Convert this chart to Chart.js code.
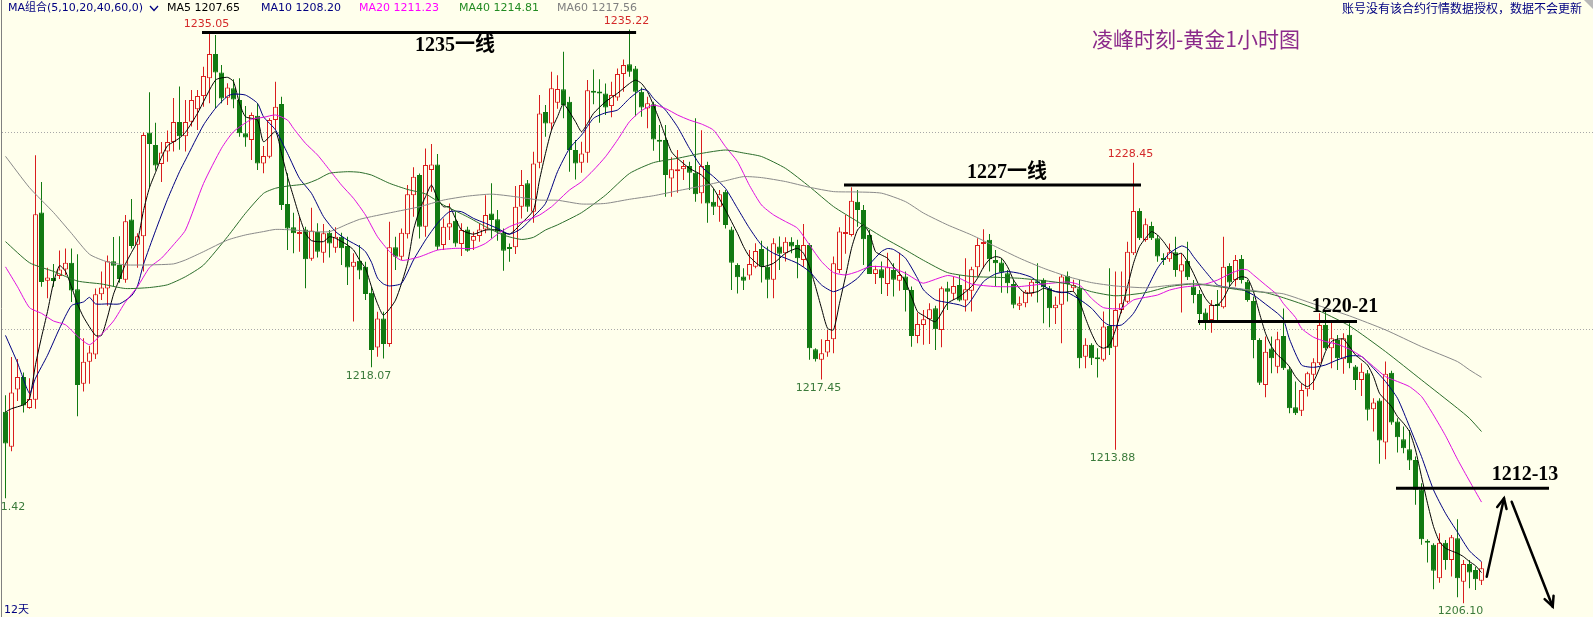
<!DOCTYPE html>
<html><head><meta charset="utf-8">
<script src="https://cdn.jsdelivr.net/npm/chart.js@4.4.1/dist/chart.umd.min.js"></script>
<style>html,body{margin:0;padding:0;background:#FFFFEC;overflow:hidden}#wrap{position:relative;width:1593px;height:617px}</style>
</head><body><div id="wrap"><canvas id="c"></canvas></div>
<script>
const opens=[1215.82,1214.04,1216.94,1217.58,1216.01,1216.42,1225.93,1222.47,1222.61,1222.70,
1223.03,1223.38,1222.03,1217.23,1218.35,1218.72,1221.78,1222.07,1223.46,1223.27,
1222.51,1225.57,1224.29,1224.72,1229.99,1229.36,1228.39,1229.03,1229.51,1230.52,
1229.80,1230.54,1231.17,1231.84,1232.74,1233.97,1233.04,1231.76,1232.23,1231.64,
1229.95,1229.61,1230.84,1228.42,1228.76,1230.62,1231.44,1226.36,1225.18,1224.84,
1225.07,1223.58,1224.94,1223.89,1224.90,1224.14,1224.70,1224.23,1223.18,1223.48,
1223.18,1221.86,1219.08,1220.55,1219.25,1224.16,1223.68,1224.83,1226.81,1227.83,
1225.21,1228.08,1228.37,1224.28,1225.17,1225.51,1224.33,1225.07,1224.50,1224.73,
1225.07,1225.88,1225.58,1224.90,1224.14,1224.16,1226.22,1227.41,1225.97,1228.46,
1231.03,1230.45,1231.50,1232.18,1231.55,1229.10,1228.46,1228.96,1232.09,1232.04,
1231.97,1231.33,1231.77,1232.96,1233.45,1233.24,1232.06,1231.21,1231.43,1229.61,
1229.61,1227.66,1228.02,1228.12,1228.29,1227.95,1226.90,1228.34,1226.48,1226.22,
1226.98,1225.07,1223.26,1222.68,1222.73,1223.18,1224.08,1223.18,1222.51,1224.20,
1223.86,1224.45,1224.28,1223.52,1224.28,1218.99,1218.45,1218.82,1219.49,1223.01,
1224.84,1224.79,1226.48,1226.06,1224.79,1222.81,1223.05,1222.30,1223.01,1222.47,
1222.68,1222.00,1219.66,1220.22,1220.51,1221.07,1219.97,1222.08,1221.80,1222.25,
1221.46,1221.96,1223.15,1224.33,1224.54,1223.52,1223.39,1222.84,1222.30,1221.19,
1221.32,1221.80,1222.42,1222.51,1222.08,1221.07,1221.24,1222.71,1222.08,1222.08,
1218.61,1219.21,1218.55,1218.45,1220.17,1219.12,1220.98,1221.40,1223.86,1226.01,
1224.53,1225.24,1224.62,1223.59,1223.55,1223.91,1222.93,1223.47,1222.17,1221.79,
1220.85,1220.47,1221.27,1221.12,1223.21,1222.50,1223.57,1222.42,1221.44,1219.46,
1217.17,1219.03,1218.10,1219.66,1217.97,1216.04,1215.87,1216.96,1217.69,1218.28,
1220.22,1219.04,1219.46,1218.48,1219.72,1218.11,1217.43,1217.77,1215.94,1216.38,
1214.25,1217.80,1215.32,1214.42,1213.91,1213.37,1211.88,1209.26,1209.06,1207.36,
1209.17,1208.29,1209.39,1207.19,1208.09,1207.78,1207.24];
const highs=[1216.65,1218.59,1218.49,1217.81,1217.52,1228.83,1227.48,1223.13,1223.32,1224.00,
1224.10,1224.10,1223.81,1219.55,1219.17,1222.07,1222.94,1223.75,1224.68,1224.72,
1225.80,1226.61,1224.87,1229.99,1232.03,1230.48,1229.51,1230.09,1231.74,1232.32,
1231.64,1232.15,1232.15,1233.33,1235.05,1234.94,1233.42,1232.49,1232.69,1232.74,
1231.33,1231.00,1231.47,1229.30,1230.71,1232.57,1231.81,1227.92,1225.92,1225.72,
1225.21,1226.17,1225.38,1225.34,1225.04,1225.18,1224.90,1224.70,1223.86,1224.28,
1223.43,1222.16,1220.89,1220.89,1225.46,1224.70,1225.12,1227.32,1228.22,1227.91,
1229.18,1229.40,1228.90,1225.63,1226.39,1225.97,1225.38,1225.21,1224.95,1225.38,
1226.81,1227.41,1226.05,1225.12,1224.36,1227.27,1228.08,1227.58,1229.01,1231.89,
1231.38,1233.07,1232.90,1234.09,1231.81,1229.61,1229.52,1232.65,1233.19,1232.69,
1232.48,1232.57,1233.24,1233.70,1235.22,1233.36,1232.28,1231.81,1231.55,1230.37,
1230.37,1228.73,1229.10,1228.59,1228.51,1230.71,1230.11,1228.51,1227.15,1227.07,
1227.07,1225.21,1223.35,1223.10,1224.03,1224.37,1224.50,1224.20,1224.62,1224.71,
1224.67,1224.67,1224.54,1225.35,1224.37,1219.04,1219.49,1219.97,1223.69,1225.18,
1225.81,1227.21,1227.07,1226.31,1225.04,1223.22,1223.44,1223.89,1223.35,1223.89,
1222.93,1222.17,1220.85,1220.98,1221.32,1221.19,1222.17,1222.42,1222.68,1222.76,
1223.61,1223.18,1224.62,1225.08,1224.84,1224.03,1223.61,1223.01,1222.51,1221.66,
1222.00,1222.51,1223.35,1222.59,1222.20,1221.66,1222.76,1222.93,1222.51,1222.51,
1219.54,1219.29,1219.04,1220.90,1223.10,1222.93,1222.93,1224.45,1228.45,1226.14,
1225.63,1225.46,1224.79,1223.86,1224.36,1224.70,1223.86,1224.45,1222.50,1221.99,
1221.06,1221.49,1222.00,1224.70,1223.35,1223.77,1223.77,1222.50,1221.66,1219.54,
1219.63,1219.63,1219.88,1221.06,1218.11,1217.35,1217.26,1217.85,1218.53,1220.82,
1220.90,1220.34,1219.71,1219.80,1220.31,1218.19,1218.28,1217.94,1216.50,1216.50,
1218.36,1217.90,1215.48,1215.06,1214.89,1213.54,1212.19,1209.34,1209.14,1209.65,
1209.31,1209.56,1210.36,1208.29,1208.29,1207.95,1208.20];
const lows=[1211.42,1213.81,1216.36,1215.78,1215.97,1215.97,1222.16,1221.58,1222.16,1222.55,
1222.74,1221.39,1215.59,1216.84,1217.23,1218.49,1221.49,1221.20,1222.16,1222.36,
1222.36,1224.10,1223.13,1222.94,1227.19,1228.06,1227.48,1228.51,1229.03,1229.12,
1229.03,1230.29,1230.12,1231.30,1231.47,1231.22,1231.47,1231.39,1231.22,1229.78,
1229.27,1228.59,1228.09,1227.92,1228.68,1230.12,1226.06,1224.02,1223.86,1223.94,
1222.08,1223.48,1223.65,1223.38,1223.65,1223.89,1223.26,1222.25,1220.39,1222.54,
1221.49,1218.07,1218.61,1218.52,1219.12,1223.01,1223.52,1224.61,1225.71,1224.61,
1224.70,1226.98,1224.02,1224.02,1224.53,1224.19,1223.72,1223.94,1224.02,1224.45,
1224.87,1224.61,1224.50,1222.97,1223.43,1223.82,1225.63,1225.97,1225.41,1228.17,
1229.78,1230.11,1231.20,1230.71,1228.00,1227.61,1227.95,1228.46,1231.43,1230.49,
1230.88,1230.76,1231.60,1232.06,1232.82,1230.82,1230.79,1230.20,1229.06,1228.51,
1226.73,1226.73,1226.93,1227.58,1227.07,1226.48,1226.39,1225.41,1225.80,1225.46,
1225.12,1221.99,1221.82,1222.00,1222.51,1223.10,1222.37,1221.57,1221.57,1223.01,
1223.44,1223.86,1222.59,1223.18,1218.45,1218.36,1217.45,1218.61,1218.78,1222.84,
1223.83,1224.71,1225.21,1223.27,1222.81,1222.30,1221.79,1221.69,1221.66,1221.96,
1220.90,1219.12,1219.29,1219.21,1219.26,1218.95,1219.09,1220.98,1221.49,1221.41,
1220.90,1220.90,1222.68,1223.10,1222.93,1222.17,1221.86,1221.83,1221.07,1220.98,
1221.12,1221.66,1221.36,1220.31,1220.10,1220.27,1219.29,1221.41,1221.91,1218.02,
1218.02,1218.19,1217.55,1218.36,1218.70,1213.88,1220.81,1221.32,1223.77,1224.53,
1224.45,1224.53,1223.43,1223.26,1223.43,1222.67,1220.85,1222.50,1221.32,1220.22,
1219.97,1219.83,1220.47,1221.06,1222.08,1222.17,1222.33,1221.40,1218.53,1217.17,
1216.55,1217.77,1217.77,1217.93,1215.74,1215.65,1215.60,1216.59,1216.92,1218.19,
1218.95,1218.02,1217.94,1217.74,1218.02,1216.92,1216.62,1215.37,1214.81,1213.17,
1213.40,1215.15,1213.74,1213.71,1212.86,1211.09,1209.06,1208.16,1206.81,1207.14,
1207.79,1207.45,1206.40,1206.10,1206.85,1206.77,1207.02];
const closes=[1214.20,1216.79,1217.58,1216.13,1216.46,1225.84,1222.40,1222.63,1222.45,1223.03,
1223.38,1221.97,1217.17,1218.35,1218.82,1221.78,1222.12,1223.46,1223.23,1222.55,
1225.49,1224.23,1224.72,1229.86,1229.40,1228.31,1228.97,1229.51,1230.52,1229.80,
1230.52,1231.64,1231.84,1232.86,1233.97,1233.04,1231.72,1232.27,1231.67,1229.95,
1229.74,1230.88,1228.42,1228.80,1230.62,1231.30,1226.31,1225.12,1224.87,1224.90,
1223.55,1225.01,1223.94,1224.87,1224.36,1224.70,1224.11,1223.14,1223.43,1222.98,
1221.79,1218.95,1220.55,1219.25,1224.16,1223.68,1224.90,1226.86,1227.74,1225.21,
1228.34,1228.37,1224.19,1225.21,1225.38,1224.36,1225.04,1223.99,1224.73,1225.07,
1225.80,1225.55,1224.95,1223.99,1224.07,1226.22,1227.32,1226.22,1228.42,1230.96,
1230.45,1232.23,1232.20,1231.38,1229.10,1228.42,1228.93,1232.14,1232.01,1231.97,
1231.26,1231.89,1232.96,1233.41,1233.07,1232.06,1231.26,1231.47,1229.64,1229.52,
1227.83,1228.12,1228.08,1228.29,1227.95,1226.86,1228.29,1226.39,1226.22,1226.86,
1225.29,1223.38,1222.64,1222.47,1223.32,1223.98,1223.18,1222.51,1224.37,1223.83,
1224.45,1224.20,1223.61,1224.28,1219.04,1218.48,1218.78,1219.46,1223.35,1224.96,
1224.91,1226.53,1226.06,1224.57,1222.81,1223.05,1222.59,1223.15,1222.51,1222.76,
1222.00,1219.66,1220.27,1220.51,1221.02,1220.00,1222.08,1221.91,1222.20,1221.46,
1222.03,1223.05,1224.28,1224.40,1223.55,1223.35,1222.88,1222.34,1221.24,1221.32,
1221.91,1222.42,1222.34,1222.13,1221.07,1221.24,1222.68,1222.30,1222.25,1218.53,
1219.21,1218.53,1218.48,1220.14,1219.04,1220.98,1221.32,1223.94,1226.01,1224.62,
1225.33,1224.62,1223.69,1223.52,1223.91,1223.01,1223.30,1222.64,1221.74,1220.78,
1220.47,1221.23,1221.18,1223.18,1222.37,1223.52,1222.50,1221.49,1219.46,1217.29,
1218.86,1218.53,1219.49,1218.02,1215.99,1215.74,1216.92,1217.77,1218.33,1220.22,
1219.04,1219.55,1218.53,1219.55,1218.28,1217.43,1217.85,1215.91,1216.28,1214.35,
1217.74,1215.27,1214.52,1213.96,1213.34,1211.85,1209.34,1209.17,1207.75,1209.17,
1208.29,1209.44,1207.36,1208.09,1207.65,1207.31,1207.87];

// moving-average lines: [bar index, value]
const ma5=[[0,1215.8],[1,1215.97],[3,1216.17],[4,1216.46],[5,1218.2],[6,1219.6],[7,1220.9],[8,1222.36],[9,1223.23],[10,1222.94],[11,1222.16],[12,1221.29],[13,1220.62],[15,1219.69],[16,1219.69],[17,1220.62],[18,1221.78],[19,1222.55],[20,1223.32],[21,1223.9],[22,1224.48],[23,1226.03],[24,1227.19],[25,1227.96],[26,1228.74],[27,1229.32],[28,1229.51],[29,1229.71],[30,1230.0],[32,1230.96],[35,1232.65],[37,1232.79],[38,1232.57],[39,1231.47],[40,1230.79],[42,1230.62],[43,1229.52],[45,1230.03],[46,1228.93],[47,1227.75],[48,1226.73],[49,1225.72],[50,1224.87],[51,1224.5],[53,1224.45],[54,1224.7],[55,1224.62],[57,1224.28],[58,1224.03],[59,1223.52],[60,1223.09],[61,1222.16],[62,1221.3],[63,1220.72],[65,1221.48],[67,1223.35],[68,1225.04],[69,1226.05],[70,1226.73],[71,1227.32],[72,1226.64],[73,1226.22],[74,1226.22],[75,1225.63],[76,1225.04],[78,1224.83],[80,1225.04],[82,1225.04],[84,1224.83],[86,1225.38],[88,1226.05],[89,1227.58],[90,1228.93],[91,1230.11],[92,1230.79],[93,1231.43],[95,1230.54],[96,1230.03],[97,1230.45],[98,1230.96],[100,1231.55],[102,1231.98],[104,1232.48],[105,1232.65],[106,1232.48],[107,1232.06],[108,1231.38],[109,1230.62],[110,1229.78],[111,1229.01],[112,1228.68],[114,1228.17],[116,1227.83],[118,1227.15],[120,1226.05],[122,1224.87],[123,1224.2],[124,1223.69],[126,1223.18],[128,1223.35],[130,1223.86],[132,1224.11],[133,1223.86],[134,1223.18],[135,1222.17],[136,1221.07],[137,1220.05],[138,1219.97],[139,1221.32],[140,1222.68],[141,1224.11],[142,1225.04],[143,1225.3],[144,1224.87],[145,1223.94],[146,1223.77],[147,1223.61],[148,1223.18],[149,1222.84],[150,1222.42],[151,1221.66],[152,1220.9],[153,1220.7],[155,1220.39],[157,1221.32],[159,1221.66],[161,1222.17],[162,1222.59],[163,1223.15],[164,1223.55],[165,1223.69],[166,1223.61],[167,1223.18],[168,1222.51],[169,1222.08],[170,1221.83],[172,1221.91],[173,1222.08],[174,1222.0],[176,1221.86],[178,1221.91],[179,1221.41],[180,1220.56],[181,1219.8],[182,1219.21],[183,1219.04],[184,1219.2],[185,1219.97],[186,1220.98],[187,1222.17],[188,1223.35],[189,1224.2],[190,1224.62],[191,1224.96],[192,1224.79],[193,1224.45],[194,1224.03],[195,1223.77],[196,1223.86],[197,1223.43],[198,1222.84],[199,1222.17],[200,1221.57],[201,1221.23],[202,1221.23],[203,1221.57],[204,1222.17],[205,1222.54],[206,1222.67],[207,1222.59],[208,1221.91],[209,1220.81],[210,1219.8],[211,1219.12],[212,1218.7],[213,1218.44],[214,1218.1],[215,1217.6],[216,1217.26],[217,1217.09],[218,1217.35],[219,1218.02],[220,1218.87],[221,1219.38],[222,1219.5],[223,1219.5],[224,1219.12],[225,1218.7],[226,1218.45],[227,1218.19],[228,1217.6],[229,1216.75],[230,1216.41],[231,1216.08],[232,1215.57],[233,1215.23],[234,1214.81],[235,1213.88],[236,1212.52],[237,1211.17],[238,1209.99],[239,1209.22],[240,1208.89],[241,1208.75],[242,1208.63],[243,1208.46],[244,1208.21],[245,1208.0],[246,1207.65]];
const ma10=[[0,1219.69],[2,1218.3],[4,1216.75],[5,1217.52],[7,1218.68],[9,1220.04],[11,1221.2],[13,1221.39],[14,1221.62],[15,1221.29],[17,1221.29],[19,1221.29],[21,1221.7],[22,1222.2],[23,1223.3],[25,1225.0],[27,1226.6],[29,1228.0],[30,1228.6],[33,1230.37],[35,1231.22],[37,1231.84],[38,1231.94],[40,1231.89],[42,1231.47],[43,1230.79],[45,1230.12],[47,1228.93],[49,1227.66],[51,1226.9],[53,1225.72],[55,1224.96],[57,1224.53],[59,1224.19],[60,1223.94],[61,1223.4],[62,1222.6],[63,1222.3],[64,1222.2],[66,1222.33],[68,1223.52],[70,1224.53],[72,1225.38],[74,1225.97],[76,1225.97],[78,1225.63],[80,1225.38],[82,1225.12],[84,1224.83],[86,1225.12],[88,1225.72],[90,1226.39],[92,1228.0],[94,1229.18],[96,1229.86],[98,1230.71],[100,1230.99],[102,1231.13],[104,1231.72],[106,1232.18],[107,1232.11],[108,1231.72],[110,1231.13],[112,1230.28],[114,1229.18],[116,1228.25],[118,1227.75],[120,1227.15],[122,1226.14],[124,1225.13],[126,1224.28],[128,1223.86],[130,1223.61],[132,1223.35],[134,1222.93],[136,1222.25],[138,1221.91],[140,1222.17],[142,1222.59],[144,1223.3],[146,1223.95],[147,1224.1],[148,1224.05],[150,1223.61],[152,1222.59],[153,1222.0],[155,1221.49],[157,1221.36],[159,1221.24],[160,1221.15],[161,1221.5],[163,1222.42],[165,1222.81],[167,1222.93],[169,1222.84],[171,1222.64],[173,1222.2],[175,1221.91],[177,1221.86],[179,1221.52],[181,1221.07],[183,1220.39],[184,1220.2],[186,1220.22],[188,1220.81],[190,1221.91],[192,1223.1],[194,1223.86],[196,1224.23],[197,1224.11],[198,1223.69],[200,1222.93],[202,1222.25],[204,1222.11],[206,1222.03],[208,1221.74],[210,1221.28],[212,1220.81],[213,1220.5],[214,1219.5],[216,1218.19],[218,1218.07],[220,1218.19],[222,1218.45],[224,1218.65],[226,1218.62],[228,1218.02],[230,1217.35],[232,1216.5],[234,1215.06],[236,1213.54],[238,1211.85],[240,1210.66],[242,1209.7],[244,1208.75],[246,1208.2]];
const ma20=[[0,1223.17],[2,1222.16],[4,1221.1],[6,1220.81],[8,1220.42],[10,1220.23],[12,1219.65],[14,1219.22],[16,1219.75],[18,1220.42],[20,1221.39],[22,1222.16],[24,1223.13],[26,1223.61],[28,1224.29],[30,1225.04],[33,1227.4],[36,1229.19],[38,1230.03],[41,1230.66],[43,1230.76],[45,1230.88],[47,1230.62],[48,1230.2],[50,1229.44],[52,1228.85],[54,1228.09],[56,1227.32],[58,1226.65],[60,1225.8],[62,1224.7],[64,1223.95],[66,1223.5],[69,1223.68],[72,1224.02],[75,1224.11],[78,1224.11],[80,1224.36],[82,1224.83],[84,1225.21],[87,1225.55],[89,1225.8],[91,1226.22],[92,1226.5],[94,1227.07],[96,1227.49],[98,1228.08],[100,1228.76],[102,1229.61],[104,1230.54],[106,1231.1],[108,1231.38],[110,1231.21],[112,1230.88],[114,1230.62],[116,1230.42],[118,1230.11],[120,1229.27],[122,1228.51],[124,1227.3],[126,1226.31],[128,1225.81],[130,1225.47],[132,1225.13],[134,1224.28],[136,1223.44],[138,1222.88],[140,1222.76],[142,1222.93],[144,1223.18],[146,1223.18],[148,1223.1],[150,1222.84],[152,1222.47],[153,1222.34],[157,1222.73],[159,1222.59],[161,1222.3],[165,1222.17],[169,1222.17],[173,1222.3],[177,1222.4],[179,1222.25],[181,1221.57],[183,1221.1],[186,1221.06],[188,1221.49],[190,1221.62],[192,1221.74],[194,1221.99],[196,1222.13],[198,1222.2],[200,1222.3],[202,1222.5],[204,1222.81],[206,1223.04],[207,1223.01],[208,1222.76],[210,1222.25],[212,1221.74],[213,1221.3],[215,1220.6],[216,1220.05],[218,1219.6],[220,1219.38],[222,1219.24],[224,1218.99],[226,1218.62],[228,1218.11],[230,1217.6],[232,1217.35],[234,1217.09],[236,1216.59],[238,1215.65],[240,1214.6],[242,1213.4],[244,1212.3],[246,1211.23]];
const ma40=[[0,1224.45],[4,1223.38],[8,1222.94],[12,1222.45],[16,1222.3],[20,1222.07],[24,1222.12],[27,1222.26],[30,1222.67],[33,1223.26],[37,1224.7],[40,1225.89],[43,1226.9],[45,1227.16],[47,1227.27],[50,1227.38],[52,1227.61],[54,1227.92],[57,1228.0],[59,1227.97],[61,1227.83],[64,1227.41],[67,1227.1],[70,1226.87],[73,1226.31],[77,1225.71],[80,1225.21],[83,1224.78],[86,1224.56],[88,1224.67],[90,1225.04],[92,1225.3],[96,1225.92],[100,1226.81],[104,1227.91],[108,1228.46],[112,1228.68],[116,1228.93],[120,1229.1],[123,1228.95],[126,1228.77],[130,1228.17],[134,1227.24],[138,1226.23],[142,1225.47],[146,1224.71],[150,1224.03],[153,1223.5],[157,1222.88],[161,1222.68],[165,1222.64],[169,1222.59],[173,1222.47],[177,1222.3],[181,1221.91],[185,1221.7],[190,1221.86],[194,1222.17],[198,1222.3],[202,1222.17],[206,1221.99],[210,1221.86],[213,1221.6],[218,1221.07],[224,1220.17],[230,1218.87],[236,1217.43],[242,1215.99],[244,1215.48],[246,1214.81]];
const ma60=[[0,1228.78],[4,1227.19],[8,1225.93],[11,1224.87],[14,1223.81],[17,1223.42],[20,1223.27],[24,1223.27],[28,1223.32],[30,1223.52],[33,1223.94],[37,1224.53],[40,1224.79],[43,1224.96],[45,1225.07],[48,1225.04],[51,1224.96],[54,1224.96],[57,1225.34],[59,1225.58],[61,1225.72],[65,1225.97],[69,1226.22],[73,1226.56],[77,1226.76],[81,1226.86],[85,1226.73],[89,1226.56],[92,1226.55],[96,1226.36],[100,1226.39],[104,1226.6],[108,1226.78],[112,1227.03],[116,1227.27],[120,1227.54],[123,1227.75],[126,1227.7],[130,1227.5],[134,1227.21],[138,1226.99],[142,1226.97],[146,1226.91],[150,1226.48],[153,1225.9],[157,1225.3],[161,1224.79],[165,1224.2],[169,1223.61],[173,1223.1],[177,1222.68],[181,1222.37],[185,1222.2],[190,1222.11],[194,1222.23],[198,1222.33],[202,1222.2],[206,1222.05],[210,1221.88],[213,1221.8],[218,1221.29],[224,1220.68],[230,1219.97],[236,1219.12],[242,1218.36],[244,1217.94],[246,1217.56]];

// marked extremes (bar indices)
const peakIdx=[34,104,188];
const troughIdx=[0,61,136,185,243];
// hand-drawn support/resistance levels
const levelPrice=[1235.07,1227.33,1220.40,1211.93];
const levelFrom=[32.75,139.75,198.75,231.75];
const levelTo=[105.1,189.25,225.25,257.25];
const levelText=['1235一线','1227一线','1220-21','1212-13'];
const levelTextIdx=[74.9,166.9,223.25,253.25];
const levelTextVal=[1234.38,1227.93,1221.13,1212.60];
// forecast arrows [bar index, price]
const arrowFrom=[[246.87,1207.44],[251.03,1211.25]];
const arrowTo=[[249.75,1211.42],[257.87,1205.92]];
const gridValues=[1220,1230];

const BG='#FFFFEC', RED='#D91E1E', GREEN='#127A12';
const W=1593, H=617;
const PXX=6, X0=5.5, PXY=19.7, Y_REF=1220, Y_REF_PX=329.3;
const X_MIN=-X0/PXX, X_MAX=X_MIN+W/PXX;
const Y_MAX=Y_REF+Y_REF_PX/PXY, Y_MIN=Y_MAX-H/PXY;

const idx=opens.map((_,i)=>i);
const up=i=>closes[i]>=opens[i];
const toPts=a=>a.map(p=>({x:p[0],y:p[1]}));

const datasets=[
 {type:'bar',data:idx.map(i=>({x:i,y:[lows[i],highs[i]]})),backgroundColor:c=>up(c.dataIndex)?RED:GREEN,
  borderWidth:0,barThickness:1,grouped:false,order:3,inflateAmount:0,minBarLength:1},
 {type:'bar',data:idx.map(i=>({x:i,y:[opens[i],closes[i]]})),backgroundColor:c=>up(c.dataIndex)?BG:GREEN,
  borderColor:c=>up(c.dataIndex)?RED:GREEN,borderWidth:1,borderSkipped:false,barThickness:5,grouped:false,order:2,inflateAmount:0,minBarLength:2},
];
const maDefs=[[ma60,'#8A8A8A'],[ma40,'#2C6E2C'],[ma20,'#E010E0'],[ma10,'#000080'],[ma5,'#000000']];
maDefs.forEach(([arr,col])=>datasets.push({type:'line',data:toPts(arr),borderColor:col,borderWidth:1,pointRadius:0,tension:0.2,order:1,fill:false}));
levelPrice.forEach((p,k)=>datasets.push({type:'line',data:[{x:levelFrom[k],y:p},{x:levelTo[k],y:p}],borderColor:'#000',borderWidth:3,pointRadius:0,order:0,fill:false}));

function txt(ctx,s,x,y,font,color,align){ctx.font=font;ctx.fillStyle=color;ctx.textAlign=align||'left';ctx.textBaseline='middle';ctx.fillText(s,x,y);}
const SMALL='11px "DejaVu Sans", "Noto Sans CJK SC", sans-serif';

const deco={
 id:'deco',
 beforeDraw(chart){const c=chart.ctx;c.save();c.fillStyle=BG;c.fillRect(0,0,chart.width,chart.height);c.restore();},
 beforeDatasetsDraw(chart){
  const c=chart.ctx,y=chart.scales.y;c.save();
  c.strokeStyle='#A8A8A8';c.lineWidth=1;c.setLineDash([1,2]);
  gridValues.forEach(v=>{const py=Math.round(y.getPixelForValue(v))+0.5;c.beginPath();c.moveTo(2,py);c.lineTo(chart.width,py);c.stroke();});
  c.setLineDash([]);c.strokeStyle='#808080';c.beginPath();c.moveTo(1.5,0);c.lineTo(1.5,chart.height);c.stroke();
  c.restore();
 },
 afterDatasetsDraw(chart){
  const c=chart.ctx,xs=chart.scales.x,ys=chart.scales.y;c.save();
  c.save();c.beginPath();c.rect(2,0,chart.width,chart.height);c.clip();
  peakIdx.forEach(i=>txt(c,highs[i].toFixed(2),xs.getPixelForValue(i)-3,ys.getPixelForValue(highs[i])-8.5,SMALL,'#D42A2A','center'));
  troughIdx.forEach(i=>txt(c,lows[i].toFixed(2),xs.getPixelForValue(i)-3,ys.getPixelForValue(lows[i])+8.5,SMALL,'#3A7A3A','center'));
  c.restore();
  levelText.forEach((s,k)=>txt(c,s,xs.getPixelForValue(levelTextIdx[k]),ys.getPixelForValue(levelTextVal[k]),'bold 20px "Liberation Serif", "Noto Sans CJK SC", serif','#000','center'));
  c.strokeStyle='#000';c.lineWidth=2.5;c.lineCap='round';
  arrowFrom.forEach((f,k)=>{
   const x1=xs.getPixelForValue(f[0]),y1=ys.getPixelForValue(f[1]);
   const x2=xs.getPixelForValue(arrowTo[k][0]),y2=ys.getPixelForValue(arrowTo[k][1]);
   c.beginPath();c.moveTo(x1,y1);c.lineTo(x2,y2);c.stroke();
   const a=Math.atan2(y2-y1,x2-x1),L=11,sp=0.45;
   c.beginPath();c.moveTo(x2-L*Math.cos(a-sp),y2-L*Math.sin(a-sp));c.lineTo(x2,y2);c.lineTo(x2-L*Math.cos(a+sp),y2-L*Math.sin(a+sp));c.stroke();
  });
  c.restore();
 },
 afterDraw(chart){
  const c=chart.ctx;c.save();
  txt(c,'MA组合(5,10,20,40,60,0)',8,8,SMALL,'#000080');
  c.strokeStyle='#000080';c.lineWidth=1.3;c.beginPath();c.moveTo(150,6);c.lineTo(154,10.5);c.lineTo(158,6);c.stroke();
  const hdr=[['MA5',ma5,'#000000',167],['MA10',ma10,'#000080',261],['MA20',ma20,'#FF00FF',359],['MA40',ma40,'#228B22',459],['MA60',ma60,'#808080',557]];
  hdr.forEach(([n,a,col,x])=>txt(c,n+' '+a[a.length-1][1].toFixed(2),x,8,SMALL,col));
  txt(c,'账号没有该合约行情数据授权，数据不会更新',1582,8.5,'12px "Noto Sans CJK SC", sans-serif','#000080','right');
  txt(c,'凌峰时刻-黄金1小时图',1196,39,'21px "Noto Sans CJK SC", sans-serif','#8B2A8B','center');
  txt(c,'12天',4,610,SMALL,'#000080');
  c.fillStyle='#B8B8B8';c.beginPath();c.moveTo(1584,0);c.lineTo(1593,0);c.lineTo(1593,9);c.closePath();c.fill();
  c.restore();
 }
};

new Chart(document.getElementById('c'),{
 type:'bar',
 data:{datasets},
 options:{
  responsive:true,maintainAspectRatio:false,animation:false,events:[],
  layout:{padding:0},
  plugins:{legend:{display:false},tooltip:{enabled:false}},
  scales:{
   x:{type:'linear',min:X_MIN,max:X_MAX,display:false,offset:false},
   y:{type:'linear',min:Y_MIN,max:Y_MAX,display:false,beginAtZero:false}
  }
 },
 plugins:[deco]
});
</script>
</body></html>
